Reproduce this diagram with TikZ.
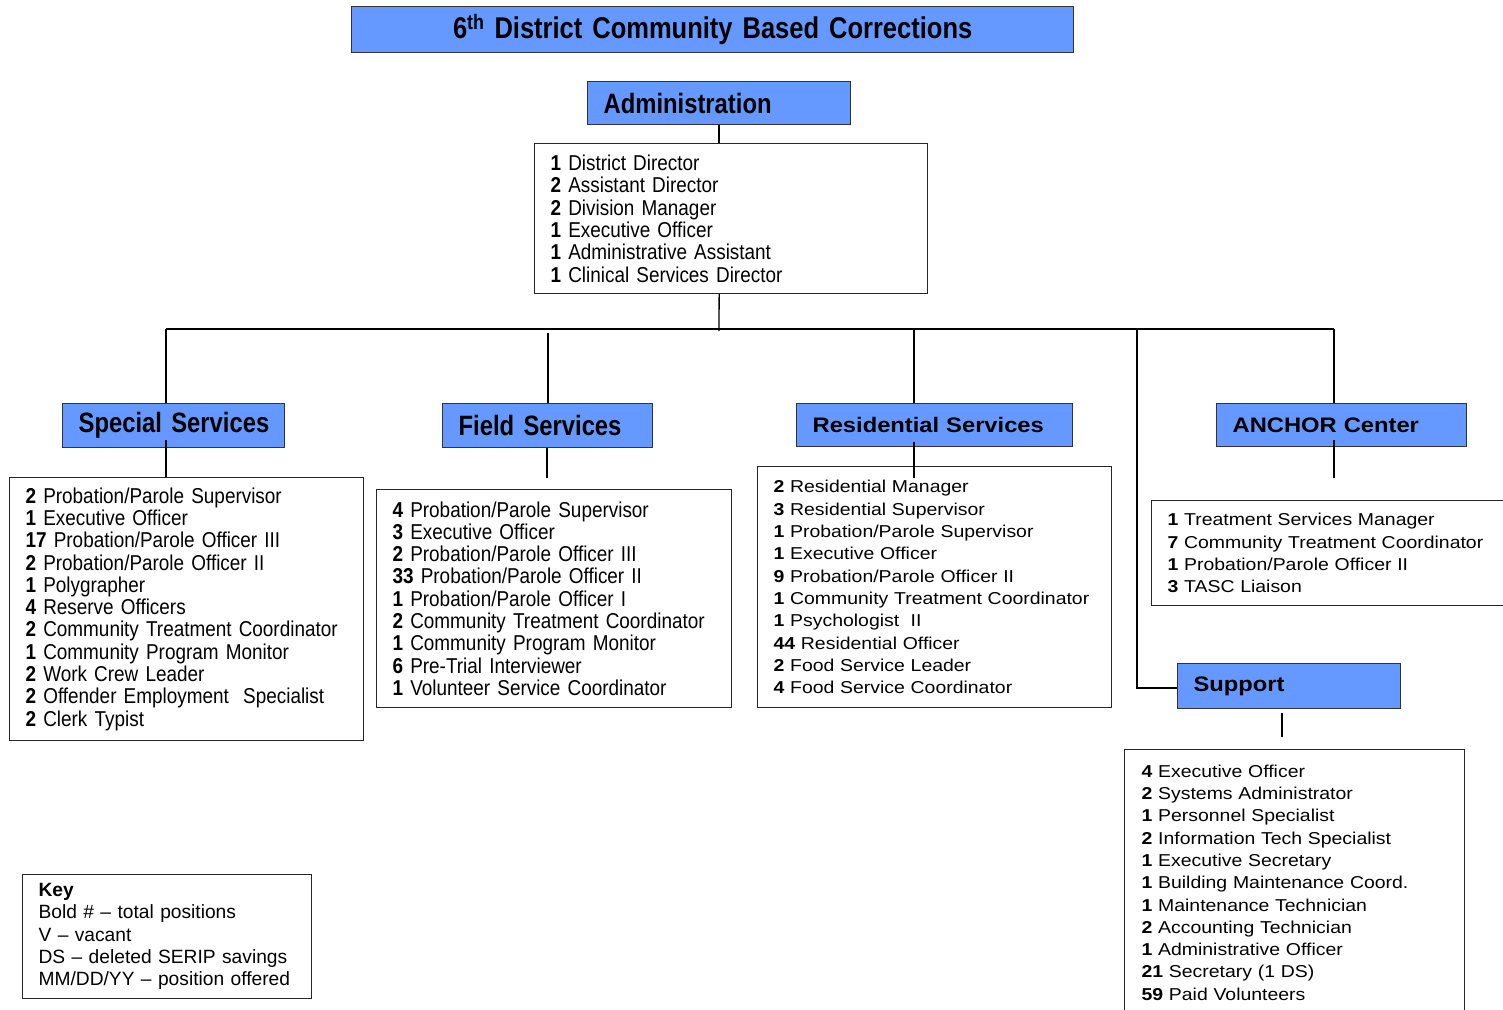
\documentclass[tikz,border=0pt]{standalone}
\usepackage{fontspec}
\setmainfont{Liberation Sans}
\newfontfamily\condL[FakeStretch=0.88]{Liberation Sans}
\newfontfamily\condH[FakeStretch=0.85]{Liberation Sans}
\newfontfamily\wideF[FakeStretch=1.13]{Liberation Sans}
\definecolor{hdr}{HTML}{6699FF}
\newcommand\pl[2]{\mbox{\textbf{#1} #2}}
\newcommand\tightlines{\setlength{\lineskiplimit}{-40pt}\setlength{\lineskip}{0pt}}
\begin{document}
\begin{tikzpicture}[x=1pt,y=-1pt,
  hdrbox/.style={draw=black!80, line width=1.3pt, fill=hdr, anchor=north west,
    inner xsep=16pt, inner ysep=0pt, align=left},
  listbox/.style={draw=black!85, line width=1.2pt, fill=white, anchor=north west,
    inner xsep=16pt, inner ysep=0pt, align=left},
  condlist/.style={font=\condL\fontsize{21.5}{22.3}\selectfont},
  condhead/.style={font=\condH\fontsize{28}{30}\selectfont\bfseries},
  widelist/.style={font=\wideF\fontsize{17.2}{22.3}\selectfont},
  widehead/.style={font=\wideF\fontsize{21}{24}\selectfont\bfseries},
  keytext/.style={font=\fontsize{19.2}{22.3}\selectfont},
  conn/.style={line width=1.8pt, black}]
\useasboundingbox (0,0) rectangle (1503,1009);
\clip (0,0) rectangle (1503,1009);

% title
\node[hdrbox, align=center, minimum width=722pt, minimum height=46pt, text width=690pt,
  font=\condH\fontsize{30}{32}\selectfont\bfseries] (title) at (351,6)
  {\mbox{6\textsuperscript{th} District Community Based Corrections}};

% administration
\node[hdrbox, condhead, minimum width=263pt, minimum height=43pt, text width=231pt] (adm) at (587,81) {\mbox{Administration}};
\node[listbox, condlist, minimum width=393pt, minimum height=150pt, text width=361pt] (admlist) at (534,143)
  {\tightlines\pl{1}{District Director}\\ \pl{2}{Assistant Director}\\ \pl{2}{Division Manager}\\
   \pl{1}{Executive Officer}\\ \pl{1}{Administrative Assistant}\\ \pl{1}{Clinical Services Director}};

% special services
\node[hdrbox, condhead, minimum width=222pt, minimum height=44pt, text width=190pt] (ss) at (62,403) {\mbox{Special Services}};
\node[listbox, condlist, minimum width=354pt, minimum height=263pt, text width=322pt] (sl) at (9,477)
  {\tightlines\pl{2}{Probation/Parole Supervisor}\\ \pl{1}{Executive Officer}\\ \pl{17}{Probation/Parole Officer III}\\
   \pl{2}{Probation/Parole Officer II}\\ \pl{1}{Polygrapher}\\ \pl{4}{Reserve Officers}\\
   \pl{2}{Community Treatment Coordinator}\\ \pl{1}{Community Program Monitor}\\ \pl{2}{Work Crew Leader}\\
   \pl{2}{Offender Employment\ \ Specialist}\\ \pl{2}{Clerk Typist}};

% field services
\node[hdrbox, condhead, minimum width=210pt, minimum height=44pt, text width=178pt] (fs) at (442,403) {\mbox{Field Services}};
\node[listbox, condlist, minimum width=355pt, minimum height=218pt, text width=323pt] (fl) at (376,489)
  {\tightlines\pl{4}{Probation/Parole Supervisor}\\ \pl{3}{Executive Officer}\\ \pl{2}{Probation/Parole Officer III}\\
   \pl{33}{Probation/Parole Officer II}\\ \pl{1}{Probation/Parole Officer I}\\
   \pl{2}{Community Treatment Coordinator}\\ \pl{1}{Community Program Monitor}\\
   \pl{6}{Pre-Trial Interviewer}\\ \pl{1}{Volunteer Service Coordinator}};

% residential services
\node[hdrbox, widehead, minimum width=276pt, minimum height=43pt, text width=244pt] (rs) at (796,403) {\mbox{Residential Services}};
\node[listbox, widelist, minimum width=354pt, minimum height=241pt, text width=322pt] (rl) at (757,466)
  {\tightlines\pl{2}{Residential Manager}\\ \pl{3}{Residential Supervisor}\\ \pl{1}{Probation/Parole Supervisor}\\
   \pl{1}{Executive Officer}\\ \pl{9}{Probation/Parole Officer II}\\ \pl{1}{Community Treatment Coordinator}\\
   \pl{1}{Psychologist\ \ II}\\ \pl{44}{Residential Officer}\\ \pl{2}{Food Service Leader}\\
   \pl{4}{Food Service Coordinator}};

% anchor center
\node[hdrbox, widehead, minimum width=250pt, minimum height=43pt, text width=218pt] (an) at (1216,403) {\mbox{ANCHOR\ Center}};
\node[listbox, widelist, minimum width=362pt, minimum height=105pt, text width=330pt] (al) at (1151,500)
  {\tightlines\pl{1}{Treatment Services Manager}\\ \pl{7}{Community Treatment Coordinator}\\
   \pl{1}{Probation/Parole Officer II}\\ \pl{3}{TASC Liaison}};

% support
\node[hdrbox, widehead, minimum width=223pt, minimum height=45pt, text width=191pt] (sp) at (1177,663) {Support};
\node[listbox, widelist, inner xsep=17pt, minimum width=340pt, minimum height=266pt, text width=306pt] (spl) at (1124,749)
  {\tightlines\pl{4}{Executive Officer}\\ \pl{2}{Systems Administrator}\\ \pl{1}{Personnel Specialist}\\
   \pl{2}{Information Tech Specialist}\\ \pl{1}{Executive Secretary}\\ \pl{1}{Building Maintenance Coord.}\\
   \pl{1}{Maintenance Technician}\\ \pl{2}{Accounting Technician}\\ \pl{1}{Administrative Officer}\\
   \pl{21}{Secretary (1 DS)}\\ \pl{59}{Paid Volunteers}};

% key
\node[listbox, keytext, minimum width=289pt, minimum height=124pt, text width=257pt] (key) at (22,874)
  {\tightlines\textbf{Key}\\ \mbox{Bold \# – total positions}\\ \mbox{V – vacant}\\ \mbox{DS – deleted SERIP savings}\\ \mbox{MM/DD/YY – position offered}};

% connector points
\coordinate (busL) at (166,329);
\coordinate (busR) at (1334,329);
\coordinate (busM) at (719,331);
\coordinate (fsTop) at (548,333);
\coordinate (rsTop) at (914,329);
\coordinate (supTop) at (1137,329);
\coordinate (supCorner) at (1137,688);
\coordinate (ssIn) at (166,440);
\coordinate (fsEnd) at (547,478);
\coordinate (rsIn) at (914,442);
\coordinate (rsEnd) at (914,478);
\coordinate (anIn) at (1334,440);
\coordinate (anEnd) at (1334,478);
\coordinate (spA) at (1282,713);
\coordinate (spB) at (1282,737);

% connectors
\draw[conn] (busL) -- (busR);
\draw[conn] (adm.south) -- (adm.south |- admlist.north);
\draw[line width=1.3pt] (adm.south |- admlist.south) -- (busM);
\draw[conn] (busL) -- (busL |- ss.north);
\draw[conn] (fsTop) -- (fsTop |- fs.north);
\draw[conn] (rsTop) -- (rsTop |- rs.north);
\draw[conn] (busR) -- (busR |- an.north);
\draw[conn] (supTop) -- (supCorner) -- (supCorner -| sp.west);
\draw[conn] (ssIn) -- (ssIn |- sl.north);
\draw[conn] (fsEnd |- fs.south) -- (fsEnd);
\draw[conn] (rsIn) -- (rsEnd);
\draw[conn] (anIn) -- (anEnd);
\draw[conn] (spA) -- (spB);
\end{tikzpicture}
\end{document}
